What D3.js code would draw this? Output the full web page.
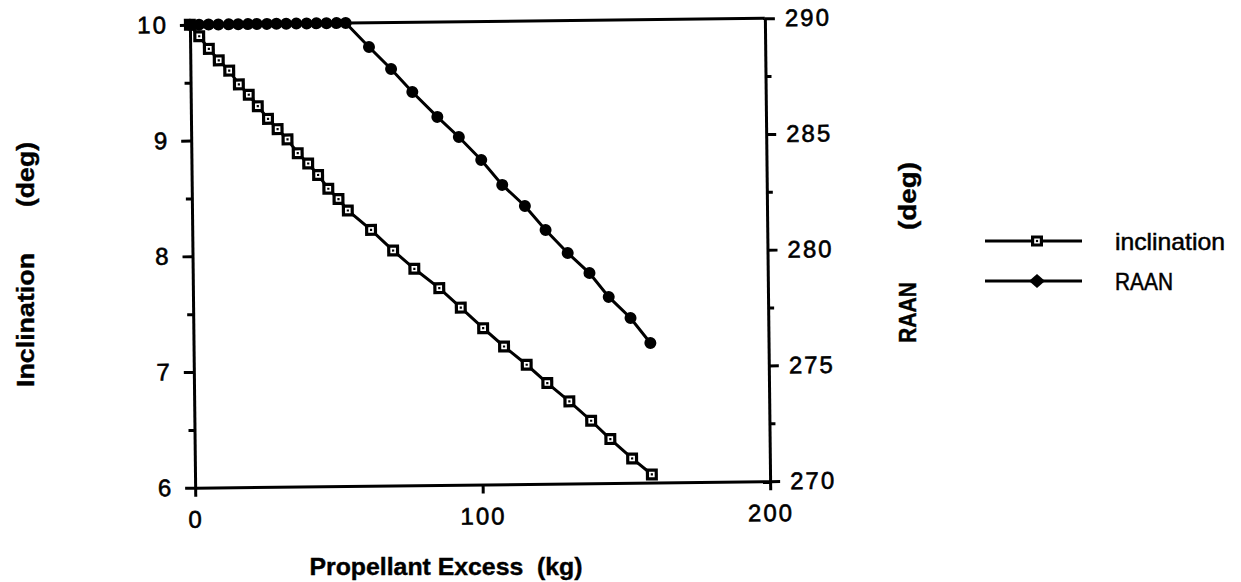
<!DOCTYPE html>
<html>
<head>
<meta charset="utf-8">
<script src="https://cdn.jsdelivr.net/npm/d3@7"></script>
<style>
  body { margin: 0; background: #fff; }
  svg { display: block; font-family: "Liberation Sans", Arial, Helvetica, sans-serif; }
</style>
</head>
<body>
<script>
// propellant excess (kg) for each point
const propellant = [0, 3.2, 6.5, 9.9, 13.5, 16.8, 20.2, 23.3, 26.8, 30.1, 33.5, 37.0, 40.6, 44.0, 47.5, 51.0, 54.2,
  62.2, 69.8, 77.1, 85.7, 93.1, 100.8, 108.0, 115.8, 122.9, 130.5, 138.0, 144.6, 152.1, 158.9];
// inclination (deg)
const inclination = [10.0, 9.90, 9.79, 9.69, 9.60, 9.48, 9.39, 9.29, 9.18, 9.09, 9.00, 8.88, 8.79, 8.69, 8.57, 8.48, 8.38,
  8.21, 8.03, 7.87, 7.70, 7.53, 7.35, 7.19, 7.03, 6.87, 6.71, 6.54, 6.38, 6.21, 6.07];
// RAAN (deg)
const raan = [290, 290, 290, 290, 290, 290, 290, 290, 290, 290, 290, 290, 290, 290, 290, 290, 290,
  288.95, 287.99, 286.99, 285.9, 285.02, 284.02, 282.93, 282.01, 280.96, 279.96, 279.08, 278.04, 277.12, 276.03];

const xTicks = [0, 100, 200];
const incTicks = [6, 7, 8, 9, 10];
const incMinor = [6.5, 7.5, 8.5, 9.5];
const raanTicks = [270, 275, 280, 285, 290];
const raanMinor = [272.5, 277.5, 282.5, 287.5];
const legendNames = ["inclination", "RAAN"];

const W = 1241, H = 582;
const m = { left: 192.5, right: 767.5, top: 21.5, bottom: 484.5 };
const LW = 3;

const svg = d3.select("body").append("svg").attr("width", W).attr("height", H);
svg.append("rect").attr("width", W).attr("height", H).attr("fill", "#fff");

const x = d3.scaleLinear().domain([0, 200]).range([m.left, m.right]);
const yL = d3.scaleLinear().domain([6, 10]).range([m.bottom, m.top]);
const yR = d3.scaleLinear().domain([270, 290]).range([m.bottom, m.top]);

// the scanned original sits slightly tilted
const g = svg.append("g").attr("transform", "rotate(-0.65,480,253)");

function styleAxis(sel) {
  sel.selectAll("path.domain").attr("stroke", "#000").attr("stroke-width", LW);
  sel.selectAll(".tick line").attr("stroke", "#000").attr("stroke-width", LW);
  sel.selectAll(".tick text").attr("fill", "#000").attr("stroke", "#000").attr("stroke-width", 0.6)
    .style("font-size", "24px").style("letter-spacing", "2px")
    .style("font-family", "'Liberation Sans', Arial, sans-serif");
}

// left axis
g.append("g").attr("transform", `translate(${m.left},0)`)
  .call(d3.axisLeft(yL).tickValues(incTicks).tickSize(10).tickSizeOuter(0).tickPadding(12).tickFormat(d3.format("d")))
  .call(styleAxis);
g.append("g").attr("transform", `translate(${m.left},0)`)
  .call(d3.axisLeft(yL).tickValues(incMinor).tickSize(6).tickFormat(""))
  .call(styleAxis).select("path.domain").remove();

// right axis
g.append("g").attr("transform", `translate(${m.right},0)`)
  .call(d3.axisRight(yR).tickValues(raanTicks).tickSize(10).tickSizeOuter(0).tickPadding(10).tickFormat(d3.format("d")))
  .call(styleAxis);
g.append("g").attr("transform", `translate(${m.right},0)`)
  .call(d3.axisRight(yR).tickValues(raanMinor).tickSize(6).tickFormat(""))
  .call(styleAxis).select("path.domain").remove();

// bottom axis
g.append("g").attr("transform", `translate(0,${m.bottom})`)
  .call(d3.axisBottom(x).tickValues(xTicks).tickSize(9).tickSizeOuter(0).tickPadding(14).tickFormat(d3.format("d")))
  .call(styleAxis);

// top frame line
g.append("line")
  .attr("x1", x(0)).attr("x2", x(200)).attr("y1", yL(10)).attr("y2", yL(10))
  .attr("stroke", "#000").attr("stroke-width", LW);

// inclination series
g.append("path").datum(inclination)
  .attr("fill", "none").attr("stroke", "#000").attr("stroke-width", LW)
  .attr("d", d3.line().x((d, i) => x(propellant[i])).y(d => yL(d)));

const sq = g.selectAll("g.sq").data(inclination).enter().append("g")
  .attr("class", "sq")
  .attr("transform", (d, i) => `translate(${x(propellant[i])},${yL(d)})`);
sq.append("rect").attr("x", -6).attr("y", -6).attr("width", 12).attr("height", 12).attr("fill", "#000");
sq.append("rect").attr("x", -2.8).attr("y", -2.8).attr("width", 5.6).attr("height", 5.6).attr("fill", "#fff");
sq.append("rect").attr("x", -1.1).attr("y", -1.1).attr("width", 2.2).attr("height", 2.2).attr("fill", "#000");

// RAAN series
g.append("path").datum(raan)
  .attr("fill", "none").attr("stroke", "#000").attr("stroke-width", LW)
  .attr("d", d3.line().x((d, i) => x(propellant[i])).y(d => yR(d)));

g.selectAll("circle.raan").data(raan).enter().append("circle")
  .attr("class", "raan")
  .attr("cx", (d, i) => x(propellant[i]))
  .attr("cy", d => yR(d))
  .attr("r", 6)
  .attr("fill", "#000");

// axis titles
svg.append("text")
  .attr("x", 446).attr("y", 575)
  .attr("text-anchor", "middle")
  .attr("xml:space", "preserve")
  .attr("textLength", 273).attr("lengthAdjust", "spacingAndGlyphs")
  .attr("stroke", "#000").attr("stroke-width", 0.4)
  .style("font-size", "24px").style("font-weight", "bold")
  .text("Propellant Excess  (kg)");

function vTitle(txt, cx, cy, len) {
  svg.append("text")
    .attr("transform", `translate(${cx},${cy}) rotate(-90)`)
    .attr("text-anchor", "middle").attr("dy", "0.36em")
    .attr("textLength", len).attr("lengthAdjust", "spacingAndGlyphs")
    .attr("stroke", "#000").attr("stroke-width", 0.4)
    .style("font-size", "24px").style("font-weight", "bold")
    .text(txt);
}
vTitle("Inclination", 25, 320, 134);
vTitle("(deg)", 25, 174.5, 65);
vTitle("RAAN", 907, 312.5, 61);
vTitle("(deg)", 907, 196, 68);

// legend
const legY = [241, 281];
const leg = svg.selectAll("g.leg").data(legendNames).enter().append("g")
  .attr("class", "leg")
  .attr("transform", (d, i) => `translate(0,${legY[i]})`);
leg.append("line").attr("x1", 985).attr("x2", 1082).attr("y1", 0).attr("y2", 0)
  .attr("stroke", "#000").attr("stroke-width", LW);
leg.append("text").attr("x", 1115).attr("dy", "0.36em")
  .attr("textLength", (d, i) => i === 0 ? 110 : 58).attr("lengthAdjust", "spacingAndGlyphs")
  .attr("stroke", "#000").attr("stroke-width", 0.5)
  .style("font-size", "24px").text(d => d);

const l0 = leg.filter((d, i) => i === 0);
l0.append("rect").attr("x", 1031).attr("y", -5.5).attr("width", 12).attr("height", 11).attr("fill", "#000");
l0.append("rect").attr("x", 1034.2).attr("y", -2.5).attr("width", 5.6).attr("height", 5).attr("fill", "#fff");
l0.append("rect").attr("x", 1035.9).attr("y", -1.1).attr("width", 2.2).attr("height", 2.2).attr("fill", "#000");

leg.filter((d, i) => i === 1).append("path")
  .attr("d", "M1029,0 L1037,-7 L1045,0 L1037,7 Z").attr("fill", "#000");
</script>
</body>
</html>
